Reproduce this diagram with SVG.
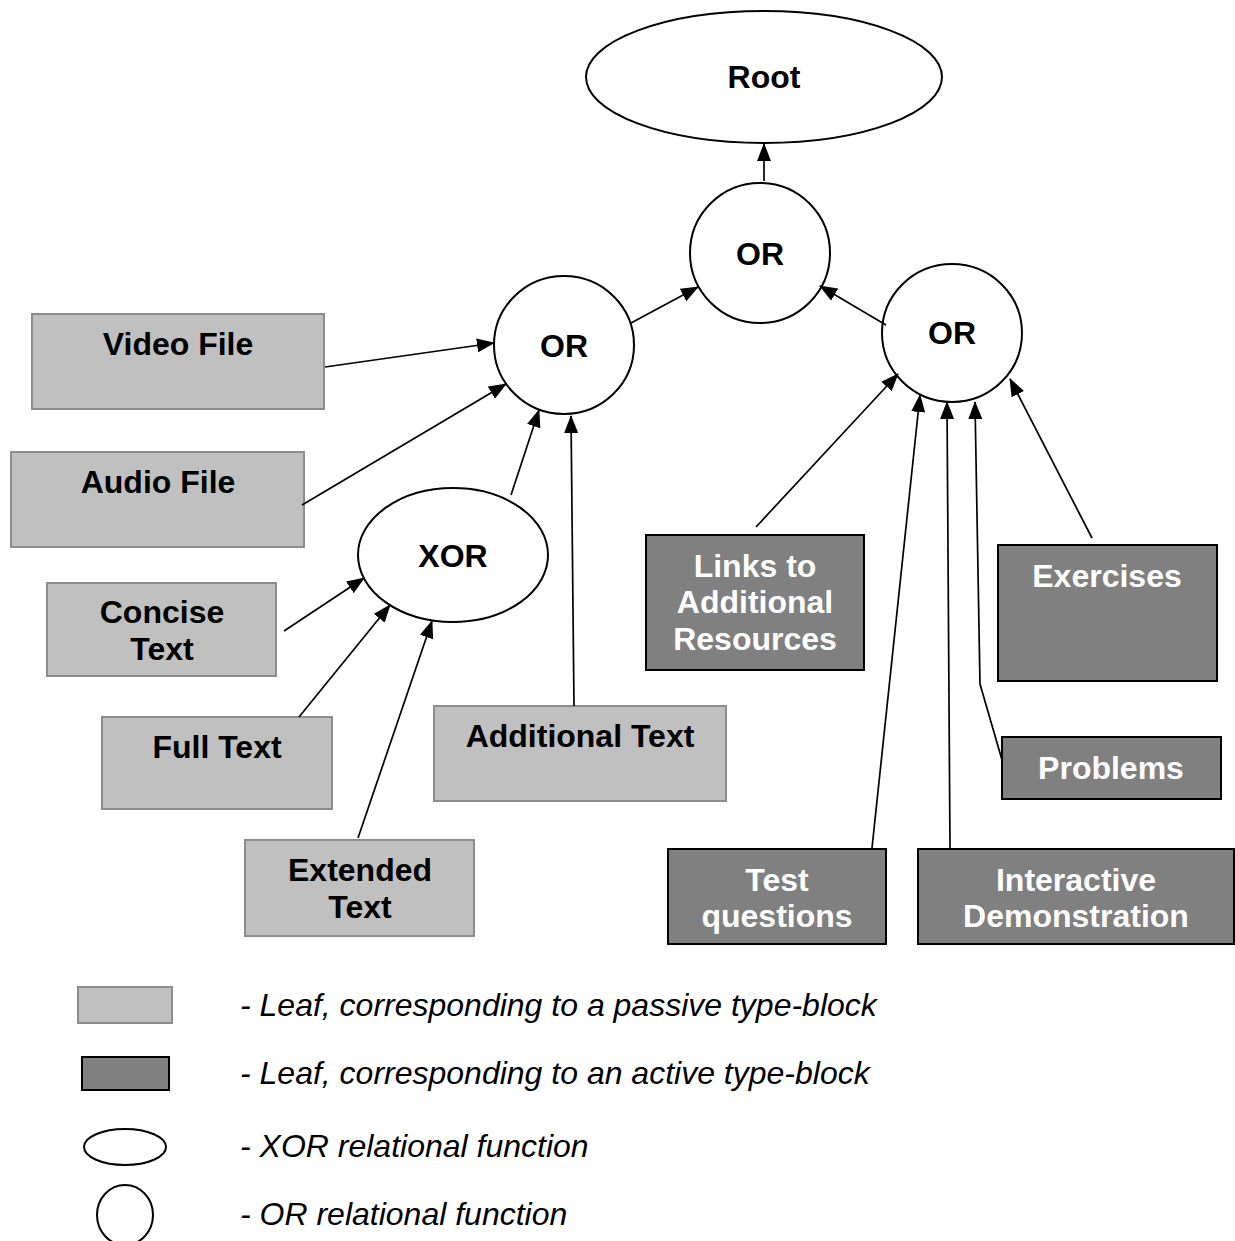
<svg xmlns="http://www.w3.org/2000/svg" width="1235" height="1241" viewBox="0 0 1235 1241">
<style>
.fn{fill:#fff;stroke:#000;stroke-width:2}
.pas{fill:#c0c0c0;stroke:#8c8c8c;stroke-width:2}
.act{fill:#808080;stroke:#000;stroke-width:2}
.lb{font-family:"Liberation Sans",Arial,sans-serif;font-weight:bold;font-size:32px;text-anchor:middle;fill:#000}
.lw{fill:#fff}
.lg{font-family:"Liberation Sans",Arial,sans-serif;font-style:italic;font-size:32px;fill:#000}
.cn{stroke:#000;stroke-width:1.7;fill:none;marker-end:url(#ah)}
</style>
<defs>
<marker id="ah" markerUnits="userSpaceOnUse" markerWidth="18" markerHeight="14" refX="17" refY="7" orient="auto">
<path d="M0,0 L18,7 L0,14 Z" fill="#000"/>
</marker>
</defs>
<rect width="1235" height="1241" fill="#fff"/>
<g id="root"><ellipse class="fn" cx="764" cy="77" rx="178" ry="66"/><text class="lb" x="764" y="88">Root</text></g>
<g id="or-top"><circle class="fn" cx="760" cy="253" r="70"/><text class="lb" x="760" y="265">OR</text></g>
<g id="or-left"><ellipse class="fn" cx="564" cy="345" rx="70" ry="69"/><text class="lb" x="564" y="357">OR</text></g>
<g id="or-right"><ellipse class="fn" cx="952" cy="333" rx="70" ry="69"/><text class="lb" x="952" y="344">OR</text></g>
<g id="xor"><ellipse class="fn" cx="453" cy="555" rx="95" ry="67"/><text class="lb" x="453" y="567">XOR</text></g>
<g id="video"><rect class="pas" x="32" y="314" width="292" height="95"/><text class="lb" x="178" y="355">Video File</text></g>
<g id="audio"><rect class="pas" x="11" y="452" width="293" height="95"/><text class="lb" x="158" y="493">Audio File</text></g>
<g id="concise"><rect class="pas" x="47" y="583" width="229" height="93"/><text class="lb" x="162" y="623">Concise</text><text class="lb" x="162" y="660">Text</text></g>
<g id="full"><rect class="pas" x="102" y="717" width="230" height="92"/><text class="lb" x="217" y="758">Full Text</text></g>
<g id="additional"><rect class="pas" x="434" y="706" width="292" height="95"/><text class="lb" x="580" y="747">Additional Text</text></g>
<g id="extended"><rect class="pas" x="245" y="840" width="229" height="96"/><text class="lb" x="360" y="881">Extended</text><text class="lb" x="360" y="918">Text</text></g>
<g id="links"><rect class="act" x="646" y="535" width="218" height="135"/><text class="lb lw" x="755" y="577">Links to</text><text class="lb lw" x="755" y="613">Additional</text><text class="lb lw" x="755" y="650">Resources</text></g>
<g id="exercises"><rect class="act" x="998" y="545" width="219" height="136"/><text class="lb lw" x="1107" y="587">Exercises</text></g>
<g id="problems"><rect class="act" x="1002" y="737" width="219" height="62"/><text class="lb lw" x="1111" y="779">Problems</text></g>
<g id="test"><rect class="act" x="668" y="849" width="218" height="95"/><text class="lb lw" x="777" y="891">Test</text><text class="lb lw" x="777" y="927">questions</text></g>
<g id="interactive"><rect class="act" x="918" y="849" width="316" height="95"/><text class="lb lw" x="1076" y="891">Interactive</text><text class="lb lw" x="1076" y="927">Demonstration</text></g>
<g id="connectors">
<line class="cn" x1="764" y1="181" x2="764" y2="144"/>
<line class="cn" x1="631" y1="323" x2="698" y2="287"/>
<line class="cn" x1="886" y1="325" x2="820" y2="286"/>
<line class="cn" x1="325" y1="367" x2="494" y2="343"/>
<line class="cn" x1="302" y1="505" x2="506" y2="384"/>
<line class="cn" x1="511" y1="495" x2="539" y2="410"/>
<line class="cn" x1="574" y1="706" x2="571" y2="416"/>
<line class="cn" x1="284" y1="631" x2="364" y2="578"/>
<line class="cn" x1="299" y1="717" x2="390" y2="605"/>
<line class="cn" x1="358" y1="838" x2="432" y2="621"/>
<line class="cn" x1="756" y1="527" x2="898" y2="374"/>
<line class="cn" x1="872" y1="848" x2="920" y2="395"/>
<line class="cn" x1="950" y1="848" x2="947" y2="402"/>
<polyline class="cn" points="1002,760 980,684 975,402"/>
<line class="cn" x1="1092" y1="538" x2="1010" y2="379"/>
</g>
<g id="legend">
<rect class="pas" x="78" y="987" width="94" height="36"/>
<rect class="act" x="82" y="1057" width="87" height="33"/>
<ellipse class="fn" cx="125" cy="1147" rx="41" ry="18"/>
<ellipse class="fn" cx="125" cy="1215" rx="28" ry="30"/>
<text class="lg" x="240" y="1016">- Leaf, corresponding to a passive type-block</text>
<text class="lg" x="240" y="1084">- Leaf, corresponding to an active type-block</text>
<text class="lg" x="240" y="1157">- XOR relational function</text>
<text class="lg" x="240" y="1225">- OR relational function</text>
</g>
</svg>
